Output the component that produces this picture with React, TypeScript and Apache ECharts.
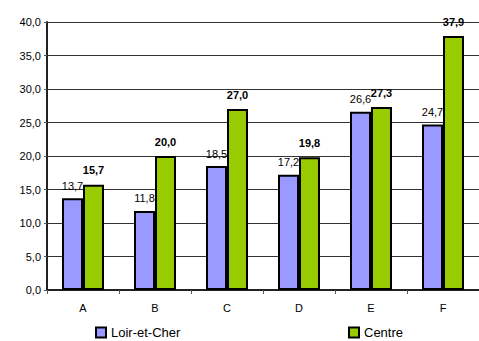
import React, { useEffect, useRef } from "react";
import * as echarts from "echarts";

const categories = ["A", "B", "C", "D", "E", "F"];
const loirEtCher = [13.7, 11.8, 18.5, 17.2, 26.6, 24.7];
const centre = [15.7, 20.0, 27.0, 19.8, 27.3, 37.9];
const seriesNames = ["Loir-et-Cher", "Centre"];

const fmt = (v: number) => v.toFixed(1).replace(".", ",");
const FONT = "'Liberation Sans', Arial, sans-serif";

export default function App() {
  const ref = useRef<HTMLDivElement>(null);
  useEffect(() => {
    const chart = echarts.init(ref.current!, null, { renderer: "svg" });
    const legendCommon = {
      top: 326,
      padding: 0,
      itemWidth: 10,
      itemHeight: 10,
      itemGap: 6,
      icon: "rect",
      textStyle: { fontFamily: FONT, fontSize: 13, color: "#000" },
    };
    chart.setOption({
      animation: false,
      textStyle: { fontFamily: FONT },
      grid: { left: 47, right: -8.5, top: 22, bottom: 51, containLabel: false },
      legend: [
        { ...legendCommon, data: [seriesNames[0]], left: 95 },
        { ...legendCommon, data: [seriesNames[1]], left: 348 },
      ],
      xAxis: {
        type: "category",
        data: categories,
        axisLine: { lineStyle: { color: "#222", width: 2 } },
        axisTick: { show: true, length: 4, lineStyle: { color: "#555" } },
        axisLabel: { fontFamily: FONT, fontSize: 11, color: "#000", margin: 12 },
      },
      yAxis: {
        type: "value",
        min: 0,
        max: 40,
        interval: 5,
        axisLine: { show: true, lineStyle: { color: "#222", width: 2 } },
        axisTick: { show: true, length: 3, lineStyle: { color: "#555" } },
        axisLabel: {
          fontFamily: FONT,
          fontSize: 11,
          color: "#000",
          margin: 6,
          formatter: (v: number) => fmt(v),
        },
        splitLine: { show: true, lineStyle: { color: "#333", width: 1 } },
      },
      series: [
        {
          name: seriesNames[0],
          type: "bar",
          data: loirEtCher,
          barWidth: 21,
          barGap: "0%",
          itemStyle: { color: "#9999FF", borderColor: "#000", borderWidth: 2 },
          label: {
            show: true,
            position: "top",
            distance: 7,
            fontFamily: FONT,
            fontSize: 11,
            color: "#000",
            formatter: (p: any) => fmt(p.value),
          },
        },
        {
          name: seriesNames[1],
          type: "bar",
          data: centre,
          barWidth: 21,
          barGap: "0%",
          itemStyle: { color: "#99CC00", borderColor: "#000", borderWidth: 2 },
          label: {
            show: true,
            position: "top",
            distance: 9,
            fontFamily: FONT,
            fontSize: 11,
            fontWeight: "bold",
            color: "#000",
            formatter: (p: any) => fmt(p.value),
          },
        },
      ],
    });
    return () => chart.dispose();
  }, []);
  return (
    <div
      ref={ref}
      style={{ position: "absolute", left: 0, top: 0, width: 479, height: 341, overflow: "hidden" }}
    />
  );
}
